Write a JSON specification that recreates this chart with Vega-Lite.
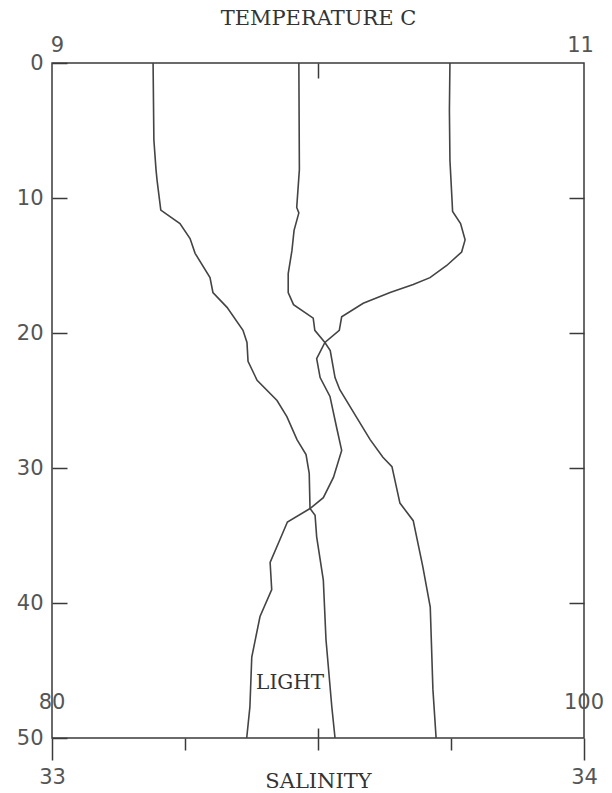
{
  "$schema": "https://vega.github.io/schema/vega-lite/v6.json",
  "width": 532,
  "height": 675,
  "autosize": "none",
  "padding": {"left": 52, "top": 63, "right": 28, "bottom": 55},
  "background": "white",
  "config": {
    "view": {"stroke": "#3a3a3a", "strokeWidth": 1.5},
    "axis": {
      "grid": false,
      "domain": false,
      "labelFlush": false,
      "tickColor": "#3a3a3a",
      "tickWidth": 1.5,
      "labelFont": "DejaVu Sans",
      "labelFontSize": 21,
      "labelColor": "#555555",
      "titleFont": "DejaVu Serif",
      "titleFontSize": 21,
      "titleFontWeight": "normal",
      "titleColor": "#333333"
    }
  },
  "datasets": {
    "temperature": [
      {"depth": 0, "temperature": 10.496},
      {"depth": 3.5, "temperature": 10.494},
      {"depth": 7.2, "temperature": 10.496},
      {"depth": 10.2, "temperature": 10.504},
      {"depth": 11.0, "temperature": 10.506},
      {"depth": 11.9, "temperature": 10.536},
      {"depth": 13.1, "temperature": 10.553},
      {"depth": 14.0, "temperature": 10.540},
      {"depth": 15.0, "temperature": 10.484},
      {"depth": 15.9, "temperature": 10.421},
      {"depth": 16.4, "temperature": 10.358},
      {"depth": 17.0, "temperature": 10.271},
      {"depth": 17.8, "temperature": 10.170},
      {"depth": 18.8, "temperature": 10.089},
      {"depth": 19.8, "temperature": 10.080},
      {"depth": 20.7, "temperature": 10.026},
      {"depth": 21.9, "temperature": 9.995},
      {"depth": 23.3, "temperature": 10.008},
      {"depth": 24.7, "temperature": 10.045},
      {"depth": 27.0, "temperature": 10.070},
      {"depth": 28.7, "temperature": 10.089},
      {"depth": 30.7, "temperature": 10.058},
      {"depth": 32.2, "temperature": 10.020},
      {"depth": 33.0, "temperature": 9.970},
      {"depth": 34.0, "temperature": 9.885},
      {"depth": 35.3, "temperature": 9.857},
      {"depth": 37.0, "temperature": 9.820},
      {"depth": 39.0, "temperature": 9.826},
      {"depth": 41.0, "temperature": 9.782},
      {"depth": 44.0, "temperature": 9.751},
      {"depth": 47.7, "temperature": 9.744},
      {"depth": 50, "temperature": 9.732}
    ],
    "salinity": [
      {"depth": 0, "salinity": 33.464},
      {"depth": 7.9, "salinity": 33.465},
      {"depth": 10.7, "salinity": 33.460},
      {"depth": 11.1, "salinity": 33.464},
      {"depth": 12.4, "salinity": 33.455},
      {"depth": 13.9, "salinity": 33.451},
      {"depth": 15.6, "salinity": 33.444},
      {"depth": 17.0, "salinity": 33.444},
      {"depth": 17.9, "salinity": 33.454},
      {"depth": 18.9, "salinity": 33.491},
      {"depth": 19.8, "salinity": 33.494},
      {"depth": 20.7, "salinity": 33.513},
      {"depth": 21.3, "salinity": 33.523},
      {"depth": 23.3, "salinity": 33.532},
      {"depth": 24.2, "salinity": 33.541},
      {"depth": 25.7, "salinity": 33.564},
      {"depth": 27.9, "salinity": 33.598},
      {"depth": 29.2, "salinity": 33.622},
      {"depth": 29.9, "salinity": 33.639},
      {"depth": 32.6, "salinity": 33.654},
      {"depth": 33.9, "salinity": 33.679},
      {"depth": 37.3, "salinity": 33.697},
      {"depth": 40.3, "salinity": 33.711},
      {"depth": 46.4, "salinity": 33.716},
      {"depth": 50, "salinity": 33.722}
    ],
    "light": [
      {"depth": 0, "light": 83.80},
      {"depth": 5.7, "light": 83.83},
      {"depth": 7.9, "light": 83.91},
      {"depth": 8.7, "light": 83.95},
      {"depth": 10.9, "light": 84.09},
      {"depth": 11.9, "light": 84.81},
      {"depth": 13.0, "light": 85.19},
      {"depth": 14.1, "light": 85.38},
      {"depth": 15.9, "light": 85.94},
      {"depth": 17.0, "light": 86.05},
      {"depth": 18.1, "light": 86.58},
      {"depth": 19.8, "light": 87.18},
      {"depth": 20.7, "light": 87.33},
      {"depth": 22.1, "light": 87.37},
      {"depth": 23.5, "light": 87.71},
      {"depth": 25.0, "light": 88.46},
      {"depth": 26.2, "light": 88.83},
      {"depth": 27.9, "light": 89.21},
      {"depth": 29.0, "light": 89.55},
      {"depth": 30.4, "light": 89.67},
      {"depth": 33.0, "light": 89.70},
      {"depth": 33.5, "light": 89.89},
      {"depth": 35.1, "light": 89.95},
      {"depth": 38.3, "light": 90.20},
      {"depth": 42.7, "light": 90.30},
      {"depth": 47.7, "light": 90.52},
      {"depth": 50, "light": 90.64}
    ],
    "lightScaleLabels": [
      {"depth": 47.4, "light": 80, "label": "80"},
      {"depth": 47.4, "light": 100, "label": "100"}
    ],
    "lightTitle": [
      {"depth": 45.9, "light": 88.95, "label": "LIGHT"}
    ]
  },
  "layer": [
    {
      "data": {"name": "salinity"},
      "mark": {"type": "line", "color": "#444444", "strokeWidth": 1.6},
      "encoding": {
        "x": {
          "field": "salinity", "type": "quantitative",
          "scale": {"domain": [33, 34], "nice": false, "zero": false},
          "axis": {
            "orient": "bottom",
            "values": [33, 33.25, 33.5, 33.75, 34],
            "tickSize": {"condition": {"test": "datum.value == 33 || datum.value == 34", "value": 22}, "value": 12},
            "labelExpr": "datum.value == 33 || datum.value == 34 ? format(datum.value, 'd') : ''",
            "labelPadding": 6,
            "title": "SALINITY",
            "titlePadding": -17
          }
        },
        "y": {
          "field": "depth", "type": "quantitative",
          "scale": {"domain": [0, 50], "reverse": true, "nice": false, "zero": false},
          "axis": {
            "orient": "left",
            "values": [0, 10, 20, 30, 40, 50],
            "tickSize": -15,
            "labelPadding": 24,
            "title": null
          }
        },
        "order": {"field": "depth", "type": "quantitative"}
      }
    },
    {
      "data": {"name": "temperature"},
      "mark": {"type": "line", "color": "#444444", "strokeWidth": 1.6},
      "encoding": {
        "x": {
          "field": "temperature", "type": "quantitative",
          "scale": {"domain": [9, 11], "nice": false, "zero": false},
          "axis": {
            "orient": "top",
            "values": [9, 10, 11],
            "tickSize": {"condition": {"test": "datum.value == 10", "value": -15}, "value": 0},
            "labelExpr": "datum.value == 10 ? '' : format(datum.value, 'd')",
            "labelOffset": {"condition": {"test": "datum.value == 9", "value": 5}, "value": -4},
            "labelPadding": 8,
            "title": "TEMPERATURE C",
            "titlePadding": 6
          }
        },
        "y": {
          "field": "depth", "type": "quantitative",
          "scale": {"domain": [0, 50], "reverse": true, "nice": false, "zero": false},
          "axis": {
            "orient": "right",
            "values": [10, 20, 30, 40],
            "tickSize": -15,
            "labels": false,
            "title": null
          }
        },
        "order": {"field": "depth", "type": "quantitative"}
      }
    },
    {
      "layer": [
        {
          "data": {"name": "light"},
          "mark": {"type": "line", "color": "#444444", "strokeWidth": 1.6},
          "encoding": {
            "x": {
              "field": "light", "type": "quantitative",
              "scale": {"domain": [80, 100], "nice": false, "zero": false},
              "axis": {
                "orient": "bottom",
                "values": [90],
                "tickSize": -10,
                "labels": false,
                "title": null
              }
            },
            "y": {
              "field": "depth", "type": "quantitative",
              "scale": {"domain": [0, 50], "reverse": true, "nice": false, "zero": false},
              "axis": null
            },
            "order": {"field": "depth", "type": "quantitative"}
          }
        },
        {
          "data": {"name": "lightScaleLabels"},
          "mark": {"type": "text", "font": "DejaVu Sans", "fontSize": 21, "color": "#555555", "align": "center", "baseline": "middle"},
          "encoding": {
            "x": {"field": "light", "type": "quantitative"},
            "y": {"field": "depth", "type": "quantitative"},
            "text": {"field": "label"}
          }
        },
        {
          "data": {"name": "lightTitle"},
          "mark": {"type": "text", "font": "DejaVu Serif", "fontSize": 20, "color": "#333333", "align": "center", "baseline": "middle"},
          "encoding": {
            "x": {"field": "light", "type": "quantitative"},
            "y": {"field": "depth", "type": "quantitative"},
            "text": {"field": "label"}
          }
        }
      ]
    }
  ],
  "resolve": {
    "scale": {"x": "independent", "y": "independent"},
    "axis": {"x": "independent", "y": "independent"}
  }
}
